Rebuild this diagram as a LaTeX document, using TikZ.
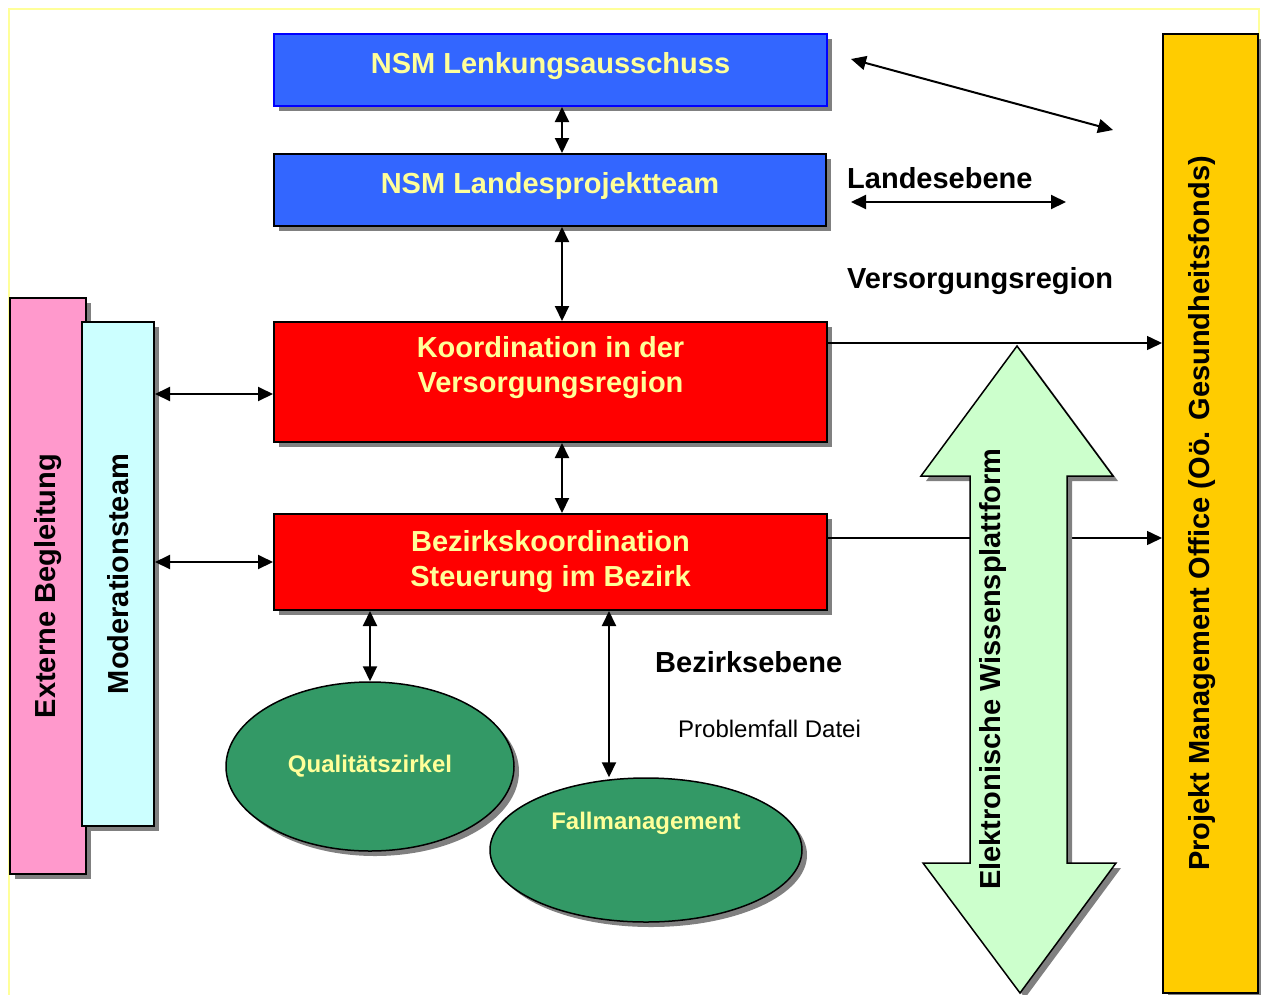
\documentclass[tikz,border=0pt]{standalone}
\usepackage{fontspec}
\setmainfont{Liberation Sans}
\usepackage{graphicx}
\usetikzlibrary{arrows.meta,shapes.geometric,shadows}
\definecolor{bluefill}{HTML}{3366FF}
\definecolor{pureblue}{HTML}{0000FF}
\definecolor{txtyellow}{HTML}{FFFF99}
\definecolor{redfill}{HTML}{FF0000}
\definecolor{pinkfill}{HTML}{FF99CC}
\definecolor{cyanfill}{HTML}{CCFFFF}
\definecolor{goldfill}{HTML}{FFCC00}
\definecolor{greenfill}{HTML}{339966}
\definecolor{mint}{HTML}{CCFFCC}
\definecolor{shadowgray}{HTML}{808080}
\definecolor{frameyellow}{HTML}{FFFF99}
\tikzset{
  shad/.style={general shadow={fill=shadowgray, draw=none, shadow xshift=5pt, shadow yshift=-5pt}},
  bigtxt/.style={font=\fontsize{29pt}{35pt}\selectfont\bfseries},
  box/.style={rectangle, draw=black, line width=2pt, inner sep=0pt, shad, align=center, text=txtyellow, bigtxt},
  oval/.style={ellipse, draw=black, line width=1.5pt, fill=greenfill, shad, inner sep=0pt, align=center,
               text=txtyellow, font=\fontsize{24pt}{29pt}\selectfont\bfseries},
  lbl/.style={inner sep=0pt, bigtxt, text=black},
  smalllbl/.style={inner sep=0pt, font=\fontsize{24pt}{29pt}\selectfont, text=black},
  tip/.tip={Triangle[length=15pt,width=14pt]},
  conn/.style={line width=2pt, tip-tip},
  oneway/.style={line width=1.5pt, -tip}
}
\begin{document}
\begin{tikzpicture}[x=1pt,y=-1pt]
\useasboundingbox (0,0) rectangle (1261,994);
\fill[white] (0,0) rectangle (1261,994);
\draw[frameyellow, line width=2pt] (8.5,1010) -- (8.5,8.5) -- (1259,8.5) -- (1259,1010);

% boxes
\node[box, draw=pureblue, fill=bluefill, minimum width=553pt, minimum height=72pt, text depth=14pt] (lenk) at (550.5,70) {NSM Lenkungsausschuss};
\node[box, fill=bluefill, minimum width=552pt, minimum height=72pt, text depth=14pt] (land) at (550,190) {NSM Landesprojektteam};
\node[box, fill=redfill, minimum width=553pt, minimum height=120pt] (koord) at (550.5,382) {Koordination in der\\Versorgungsregion\\\mbox{}};
\node[box, fill=redfill, minimum width=553pt, minimum height=96pt] (bez) at (550.5,562) {Bezirkskoordination\\Steuerung im Bezirk};
\node[box, fill=pinkfill, minimum width=76pt, minimum height=576pt, text=black] (ext) at (48,586) {\rotatebox{90}{Externe Begleitung}};
\node[box, fill=cyanfill, minimum width=72pt, minimum height=504pt, text=black] (mod) at (118,574) {\rotatebox{90}{Moderationsteam}};
\node[box, fill=goldfill, minimum width=95pt, minimum height=959pt, text=black] (pmo) at (1210.5,513.5) {\rotatebox{90}{Projekt Management Office (Oö. Gesundheitsfonds)}\hspace{16pt}};

% ellipses
\node[oval, minimum width=288pt, minimum height=169pt] (qz) at (370,766.5) {Qualitätszirkel};
\node[oval, minimum width=312pt, minimum height=144pt] (fm) at (646,850) {Fallmanagement\\\mbox{}\\\mbox{}};

% free ends
\coordinate (d1) at (851,59);
\coordinate (d2) at (1113,130);
\coordinate (l1) at (851,202);
\coordinate (l2) at (1066,202);

% connectors
\draw[conn] (lenk.south -| 562,0) -- (land.north -| 562,0);
\draw[conn] (land.south -| 562,0) -- (koord.north -| 562,0);
\draw[conn] (koord.south -| 562,0) -- (bez.north -| 562,0);
\draw[conn] (bez.south -| qz.north) -- (qz.north);
\draw[conn] (bez.south -| 609,0) -- (fm.north -| 609,0);
\draw[conn] (mod.east |- 0,394) -- (koord.west |- 0,394);
\draw[conn] (mod.east |- 0,562) -- (bez.west |- 0,562);
\draw[oneway] (koord.east |- 0,343) -- (pmo.west |- 0,343);
\draw[oneway] (bez.east |- 0,538) -- (pmo.west |- 0,538);
\draw[conn] (d1) -- (d2);
\draw[conn] (l1) -- (l2);

% big double arrow
\draw[line width=1.5pt, fill=mint, shad, line join=miter]
  (1017,346) -- (1113,476) -- (1067,476) -- (1067,863) -- (1116,863) -- (1020,993)
  -- (923,863) -- (970,863) -- (970,476) -- (921,476) -- cycle;
\node[lbl, rotate=90] (ewp) at (993,669) {Elektronische Wissensplattform};

% labels
\node[lbl, anchor=base west] (le) at (847,188) {Landesebene};
\node[lbl, anchor=base west] (vr) at (847,288) {Versorgungsregion};
\node[lbl, anchor=base west] (be) at (655,672) {Bezirksebene};
\node[smalllbl, anchor=base west] (pd) at (678,737) {Problemfall Datei};
\end{tikzpicture}
\end{document}
